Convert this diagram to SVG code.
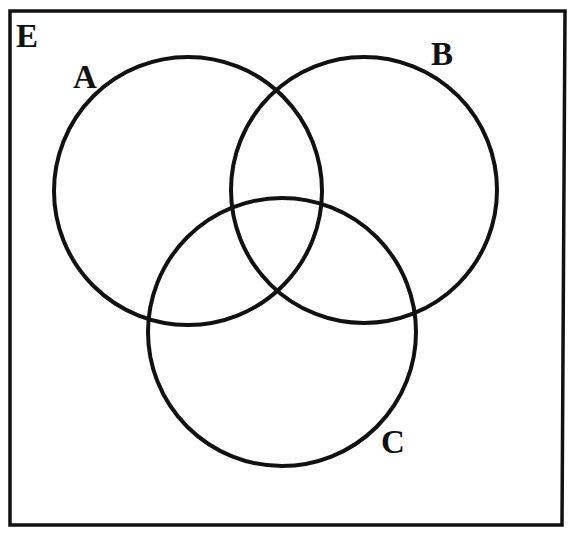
<svg xmlns="http://www.w3.org/2000/svg" width="576" height="538" viewBox="0 0 576 538">
<style>
.c{fill:none;stroke:#111;stroke-width:4}
.t{font-family:"Liberation Serif",serif;font-weight:bold;font-size:33px;fill:#111}
</style>
<rect width="576" height="538" fill="#fff"/>
<g id="universe"><polygon points="10,11 565,11 562,525 10,525" fill="none" stroke="#111" stroke-width="3.5"/><text class="t" x="16" y="47">E</text></g>
<g id="A"><circle class="c" cx="188" cy="191" r="134"/><text class="t" x="73" y="88">A</text></g>
<g id="B"><circle class="c" cx="364" cy="190" r="133"/><text class="t" x="431" y="65">B</text></g>
<g id="C"><circle class="c" cx="282" cy="332" r="134"/><text class="t" x="381" y="453">C</text></g>
<g id="connectors"/>
</svg>
